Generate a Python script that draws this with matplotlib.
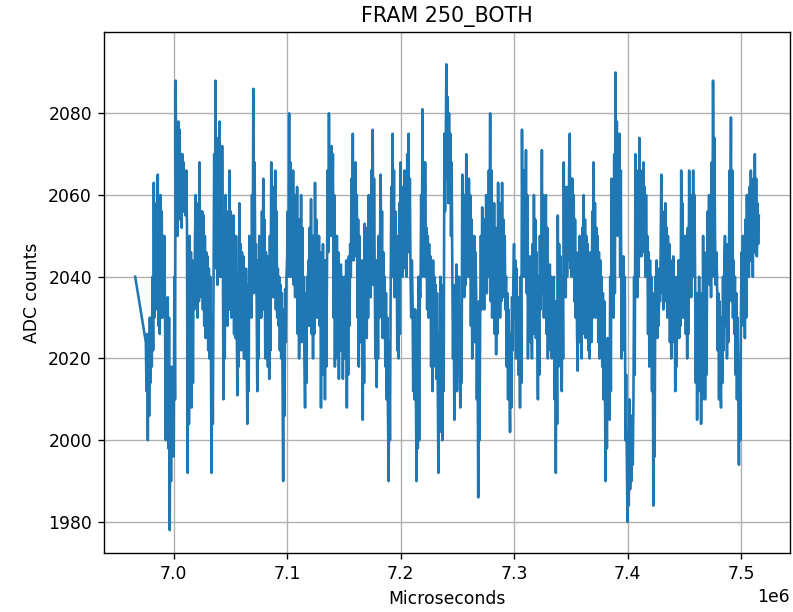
import numpy as np
import matplotlib
matplotlib.use("Agg")
import matplotlib.pyplot as plt

# First isolated sample before the continuous capture
first_time = 6.966e6
first_count = 2040

# Continuous capture: start time and sample period (microseconds)
capture_start = 6.9754e6
sample_period = 584.7

# ADC counts of the continuous capture
counts = [
    2024, 2012, 2026, 2000, 2026, 2006, 2030, 2014, 2028, 2018, 2040, 2022, 2063, 2030, 2054, 2032, 2058, 2034, 2065, 2028, 2052, 2026, 2060, 2030, 2056, 2030, 2050, 2032, 2050, 2028,
    2000, 2030, 2004, 2035, 1998, 2030, 1978, 2012, 1990, 2018, 2002, 2016, 1996, 2040, 2010, 2088, 2055, 2072, 2050, 2078, 2056, 2076, 2054, 2070, 2052, 2070, 2056, 2068, 2056, 2064,
    2055, 2066, 2052, 1992, 2040, 2004, 2050, 2012, 2046, 2008, 2044, 2014, 2043, 2032, 2048, 2060, 2034, 2054, 2030, 2058, 2034, 2068, 2036, 2056, 2035, 2056, 2032, 2055, 2028, 2050,
    2025, 2046, 2028, 2045, 2022, 2042, 2020, 2040, 2024, 1992, 2030, 2004, 2040, 2070, 2046, 2088, 2042, 2066, 2038, 2074, 2044, 2078, 2040, 2064, 2040, 2072, 2048, 2010, 2044, 2020,
    2060, 2030, 2054, 2028, 2056, 2032, 2066, 2032, 2056, 2030, 2054, 2034, 2055, 2026, 2050, 2025, 2050, 2028, 2011, 2040, 2018, 2058, 2024, 2048, 2022, 2046, 2026, 2045, 2020, 2040,
    2020, 2042, 2024, 2004, 2038, 2012, 2050, 2032, 2048, 2030, 2060, 2036, 2086, 2036, 2068, 2040, 2048, 2034, 2012, 2044, 2020, 2050, 2030, 2046, 2030, 2056, 2034, 2064, 2032, 2054,
    2020, 2046, 2024, 2045, 2018, 2040, 2015, 2050, 2022, 2068, 2036, 2058, 2035, 2062, 2038, 2066, 2032, 2056, 2030, 2042, 2028, 2040, 2022, 2038, 2020, 2036, 2016, 1990, 2032, 2006,
    2037, 2024, 2040, 2045, 2056, 2040, 2080, 2042, 2068, 2040, 2064, 2044, 2066, 2038, 2058, 2035, 2060, 2038, 2062, 2026, 2054, 2020, 2054, 2026, 2060, 2024, 2052, 2025, 2040, 2020,
    2008, 2036, 2014, 2040, 2030, 2044, 2028, 2052, 2032, 2059, 2026, 2050, 2020, 2050, 2026, 2063, 2034, 2054, 2030, 2048, 2032, 2050, 2028, 2046, 2008, 2040, 2016, 2048, 2016, 2044,
    2010, 2044, 2018, 2040, 2066, 2046, 2080, 2052, 2070, 2050, 2072, 2054, 2070, 2030, 2060, 2018, 2046, 2024, 2050, 2020, 2046, 2015, 2040, 2022, 2043, 2022, 2040, 2015, 2038, 2020,
    2040, 2020, 2044, 2008, 2042, 2016, 2045, 2028, 2048, 2040, 2064, 2046, 2075, 2044, 2066, 2045, 2068, 2050, 2060, 2030, 2054, 2018, 2050, 2024, 2040, 2024, 2044, 2005, 2036, 2014,
    2053, 2030, 2050, 2025, 2052, 2030, 2060, 2036, 2056, 2035, 2066, 2040, 2076, 2038, 2064, 2040, 2020, 2044, 2013, 2044, 2020, 2050, 2030, 2048, 2065, 2034, 2056, 2025, 2046, 2030,
    2040, 2018, 2036, 2010, 2030, 2006, 1990, 2024, 2000, 2035, 2062, 2040, 2075, 2040, 2066, 2035, 2056, 2038, 2050, 2022, 2046, 2020, 2058, 2026, 2068, 2042, 2060, 2040, 2062, 2044,
    2066, 2042, 2060, 2040, 2070, 2046, 2075, 2046, 2064, 2040, 2030, 2044, 2035, 2012, 2032, 2010, 2032, 2014, 1990, 2020, 1998, 2040, 2000, 2036, 2035, 2060, 2040, 2081, 2042, 2068,
    2040, 2068, 2044, 2052, 2032, 2050, 2030, 2048, 2034, 2045, 2018, 2042, 2012, 2044, 2018, 2040, 2020, 2038, 2015, 2036, 2012, 1992, 2026, 2002, 2040, 2010, 2036, 2000, 2038, 2012,
    2075, 2056, 2070, 2092, 2064, 2084, 2058, 2080, 2062, 2075, 2050, 2068, 2040, 2020, 2036, 2005, 2038, 2012, 2043, 2012, 2040, 2025, 2040, 2022, 2008, 2030, 2014, 2065, 2036, 2056,
    2035, 2060, 2038, 2070, 2042, 2062, 2040, 2064, 2044, 2060, 2028, 2054, 2020, 2048, 2026, 2050, 2024, 2046, 2035, 2010, 2030, 1986, 2034, 2000, 2030, 2050, 2032, 2057, 2034, 2052,
    2032, 2054, 2036, 2060, 2036, 2056, 2040, 2066, 2044, 2080, 2034, 2066, 2030, 2055, 2034, 2058, 2026, 2052, 2021, 2050, 2026, 2063, 2032, 2056, 2030, 2058, 2034, 2063, 2036, 2054,
    2035, 2050, 2032, 2040, 2018, 2036, 2010, 2032, 2014, 2002, 2026, 2008, 2035, 2022, 2040, 2048, 2030, 2044, 2020, 2042, 2024, 2035, 2016, 2032, 2008, 2040, 2014, 2076, 2044, 2066,
    2040, 2066, 2046, 2071, 2036, 2060, 2020, 2044, 2026, 2045, 2024, 2042, 2020, 2048, 2026, 2060, 2030, 2054, 2025, 2046, 2028, 2010, 2040, 2016, 2050, 2032, 2046, 2071, 2036, 2060,
    2030, 2054, 2034, 2060, 2026, 2052, 2020, 2040, 2024, 2043, 2022, 2040, 2020, 2038, 2024, 2040, 2010, 2034, 1992, 2030, 2004, 2055, 2018, 2048, 2020, 2045, 2024, 2012, 2040, 2020,
    2068, 2038, 2060, 2035, 2062, 2040, 2060, 2044, 2066, 2075, 2042, 2064, 2040, 2064, 2046, 2060, 2034, 2054, 2030, 2046, 2026, 2017, 2044, 2024, 2050, 2024, 2046, 2020, 2052, 2028,
    2060, 2026, 2054, 2025, 2050, 2030, 2048, 2022, 2044, 2020, 2046, 2026, 2024, 2056, 2030, 2068, 2034, 2058, 2030, 2052, 2034, 2050, 2024, 2046, 2020, 2044, 2024, 2040, 2018, 2036,
    2010, 2034, 2014, 1990, 2022, 1998, 2025, 2008, 2022, 2005, 2040, 2012, 2064, 2034, 2056, 2030, 2070, 2036, 2090, 2056, 2078, 2050, 2072, 2054, 2075, 2040, 2066, 2020, 2044, 2024,
    2045, 2022, 2040, 2000, 2016, 1996, 1980, 1998, 1984, 2010, 1988, 2006, 1990, 2006, 1994, 2010, 2040, 2016, 2070, 2038, 2062, 2035, 2066, 2040, 2074, 2048, 2066, 2045, 2062, 2048,
    2068, 2046, 2062, 2040, 2060, 2044, 2050, 2026, 2046, 2018, 2044, 2022, 2040, 2012, 2036, 1984, 2030, 1996, 2040, 2026, 2044, 2025, 2042, 2028, 2040, 2034, 2046, 2065, 2036, 2056,
    2032, 2052, 2036, 2058, 2034, 2052, 2030, 2050, 2034, 2048, 2024, 2044, 2020, 2042, 2024, 2045, 2026, 2040, 2012, 2036, 2018, 2040, 2026, 2044, 2025, 2044, 2028, 2066, 2034, 2058,
    2030, 2046, 2034, 2050, 2026, 2046, 2020, 2052, 2026, 2066, 2038, 2058, 2035, 2060, 2040, 2066, 2042, 2060, 2040, 2014, 2036, 2005, 2036, 2012, 2040, 2016, 2036, 2004, 2032, 2010,
    2050, 2020, 2046, 2010, 2036, 2016, 2040, 2056, 2044, 2060, 2038, 2054, 2035, 2068, 2040, 2088, 2052, 2074, 2050, 2038, 2046, 2040, 2022, 2036, 2010, 2034, 2016, 2008, 2030, 2014,
    2040, 2022, 2044, 2050, 2028, 2046, 2020, 2048, 2024, 2045, 2066, 2050, 2079, 2034, 2066, 2030, 2044, 2026, 2040, 2016, 2036, 2010, 2030, 2014, 1994, 2018, 2000, 2030, 2046, 2034,
    2050, 2028, 2046, 2025, 2054, 2030, 2060, 2042, 2056, 2040, 2062, 2044, 2066, 2044, 2060, 2040, 2064, 2046, 2070, 2046, 2064, 2045, 2058, 2048, 2055,
]

times = np.concatenate((
    [first_time],
    capture_start + sample_period * np.arange(len(counts)),
))
values = np.concatenate(([first_count], counts))

dpi = 124
fig = plt.figure(figsize=(793 / dpi, 612 / dpi), dpi=dpi)
ax = fig.add_axes([104 / 793, 59 / 612, 686 / 793, 521 / 612])

ax.plot(times, values, color="#1f77b4", linewidth=1.5)
ax.set_ylim(1972.4, 2099.9)
ax.set_title("FRAM 250_BOTH")
ax.set_xlabel("Microseconds")
ax.set_ylabel("ADC counts")
ax.grid(True)

fig.savefig("out.png", dpi=dpi)
